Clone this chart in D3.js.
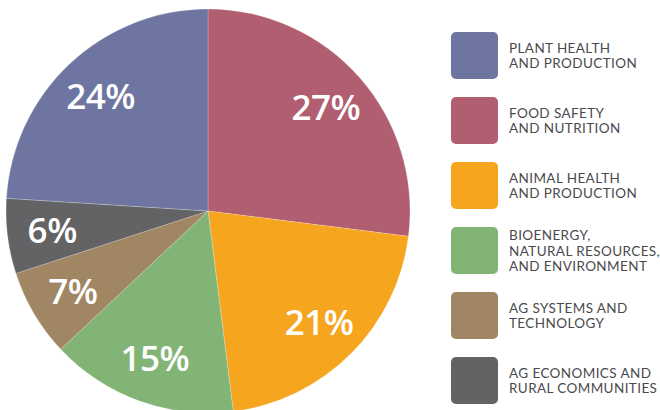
<!DOCTYPE html>
<html><head><meta charset="utf-8">
<script src="https://cdn.jsdelivr.net/npm/d3@7"></script>
<style>html,body{margin:0;padding:0;background:#fff;}svg{display:block;}</style>
</head><body>
<svg id="c" width="660" height="410"></svg>
<script>
const categories = ["FOOD SAFETY|AND NUTRITION","ANIMAL HEALTH|AND PRODUCTION","BIOENERGY,|NATURAL RESOURCES,|AND ENVIRONMENT","AG SYSTEMS AND|TECHNOLOGY","AG ECONOMICS AND|RURAL COMMUNITIES","PLANT HEALTH|AND PRODUCTION"];
const values = [27, 21, 15, 7, 6, 24];
const colors = ["#b15e70","#f6a51e","#82b476","#a08662","#636365","#6e75a0"];
const legendOrder = [5, 0, 1, 2, 3, 4];

const svg = d3.select("#c");
const cx = 208, cy = 211, R = 202;
const g = svg.append("g").attr("transform", `translate(${cx},${cy})`);
const pie = d3.pie().sort(null).value(d => d)(values);
const arc = d3.arc().innerRadius(0).outerRadius(R);
const labelArc = d3.arc().innerRadius(157).outerRadius(157);

g.selectAll("path.s").data(pie).join("path")
  .attr("class","s").attr("d", arc)
  .attr("fill", (d,i) => colors[i])
  .attr("stroke", "rgba(255,255,255,0.35)").attr("stroke-width", 0.6);

g.selectAll("text.l").data(pie).join("text")
  .attr("class","l")
  .attr("transform", d => `translate(${labelArc.centroid(d)})`)
  .attr("text-anchor","middle").attr("dy","0.36em")
  .attr("fill","#fff")
  .style("font-family","'Open Sans', sans-serif").style("font-weight","600")
  .style("font-size","35px")
  .style("letter-spacing","-0.5px")
  .text(d => d.data + "%");

const lg = svg.append("g");
legendOrder.forEach((ci, k) => {
  const y0 = 32 + k * 65;
  lg.append("rect").attr("x", 451).attr("y", y0).attr("width", 47).attr("height", 47)
    .attr("rx", 5).attr("fill", colors[ci]);
  const lines = categories[ci].split("|");
  const lh = 15.5;
  const mid = y0 + 23.5;
  const firstBase = mid - (lines.length - 1) * lh / 2 + 5;
  const t = lg.append("text").attr("x", 509)
    .style("font-family","Lato, sans-serif").style("font-size","13.5px")
    .style("letter-spacing","0.4px").attr("fill","#4a4a4c");
  lines.forEach((ln, j) => {
    t.append("tspan").attr("x", 509).attr("y", firstBase + j * lh).text(ln);
  });
});
</script>
</body></html>
